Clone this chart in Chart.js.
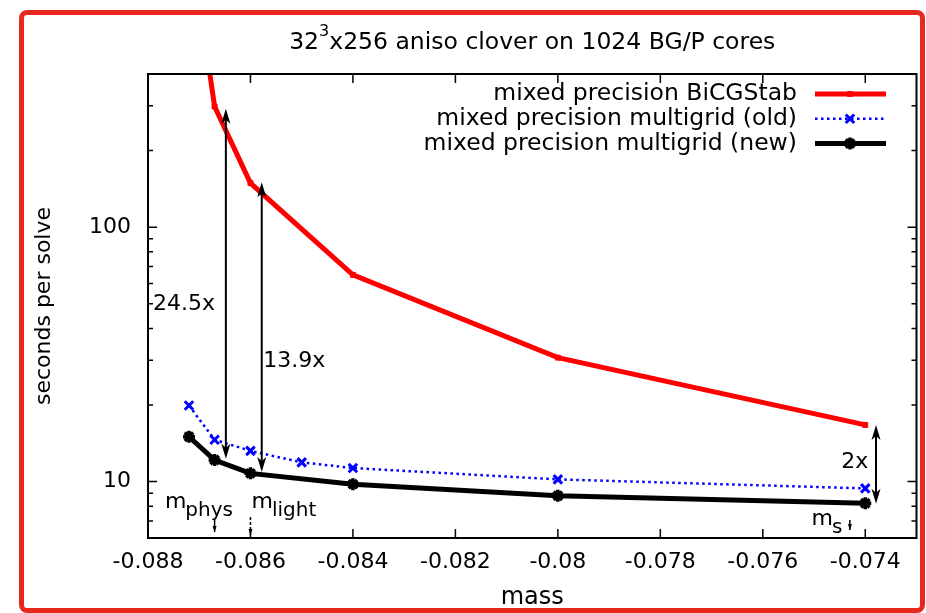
<!DOCTYPE html>
<html>
<head>
<meta charset="utf-8">
<title>32^3x256 aniso clover on 1024 BG/P cores</title>
<script src="https://cdn.jsdelivr.net/npm/chart.js@4.4.1/dist/chart.umd.min.js"></script>
<style>
  html, body { margin: 0; padding: 0; background: #fff; }
  #wrap { position: relative; width: 926px; height: 613px; }
  #frame {
    position: absolute; left: 19px; top: 10px; width: 896px; height: 593px;
    border: 5px solid #e8281c; border-radius: 8px; pointer-events: none;
  }
</style>
</head>
<body>
<div id="wrap">
  <canvas id="solve-chart" width="926" height="613"></canvas>
  <div id="frame"></div>
</div>
<script>
// --- Data --- //
const massTicks = [-0.088, -0.086, -0.084, -0.082, -0.080, -0.078, -0.076, -0.074];
const massTickLabels = ['-0.088', '-0.086', '-0.084', '-0.082', '-0.08', '-0.078', '-0.076', '-0.074'];
const timeTicks = [10, 100];
const timeTickLabels = ['10', '100'];
const timeMinorTicks = [7, 8, 9, 20, 30, 40, 50, 60, 70, 80, 90, 200, 300];

const bicgMass = [-0.0872, -0.0867, -0.0860, -0.0840, -0.0800, -0.0740];
const bicgTime = [1450, 298, 149, 64.9, 30.7, 16.7];
const mgOldMass = [-0.0872, -0.0867, -0.0860, -0.0850, -0.0840, -0.0800, -0.0740];
const mgOldTime = [19.9, 14.6, 13.2, 11.9, 11.3, 10.2, 9.4];
const mgNewMass = [-0.0872, -0.0867, -0.0860, -0.0840, -0.0800, -0.0740];
const mgNewTime = [15.0, 12.15, 10.77, 9.77, 8.79, 8.21];

// speed-up arrows (double headed) and their labels
const speedupMass = [-0.08648, -0.08578, -0.07379];
const speedupLow = [12.3, 10.9, 8.18];
const speedupHigh = [292, 150, 16.7];
const speedupText = ['24.5x', '13.9x', '2x'];
const speedupTextMass = [-0.0879, -0.08575, -0.07447];
const speedupTextTime = [47.4, 28.2, 11.3];

// quark mass markers
const markerSub = ['phys', 'light', 's'];
const markerTextMass = [-0.08767, -0.08598, -0.07505];
const markerTextTime = [7.87, 7.87, 6.75];
const markerArrowMass = [-0.0867, -0.0860, -0.0743];
const markerArrowTop = [7.06, 7.25, 7.06];
const markerArrowBottom = [6.33, 6.16, 6.45];
const markerDashed = [false, true, false];

const FONT = '"DejaVu Sans", sans-serif';
Chart.defaults.font.family = FONT;
Chart.defaults.color = '#000';

function toPoints(xs, ys) {
    return xs.map((x, i) => ({ x: x, y: ys[i] }));
}

function arrowHead(ctx, x, y, dir) {
    // dir = -1 points up, +1 points down; filled head with a small notch
    ctx.beginPath();
    ctx.moveTo(x, y);
    ctx.lineTo(x - 4.5, y - dir * 15);
    ctx.lineTo(x, y - dir * 11);
    ctx.lineTo(x + 4.5, y - dir * 15);
    ctx.closePath();
    ctx.fill();
}

// --- Gnuplot-like decorations: box, inward ticks, title, key, labels --- //
const gnuplotLook = {
    id: 'gnuplotLook',
    afterDatasetsDraw(chart) {
        const ctx = chart.ctx;
        const area = chart.chartArea;
        const xs = chart.scales.x;
        const ys = chart.scales.y;
        ctx.save();
        ctx.strokeStyle = '#000';
        ctx.fillStyle = '#000';

        // border
        ctx.lineWidth = 2;
        ctx.strokeRect(area.left, area.top, area.right - area.left, area.bottom - area.top);

        // ticks, mirrored on top and right
        ctx.lineWidth = 1.5;
        ctx.beginPath();
        massTicks.forEach(v => {
            const px = xs.getPixelForValue(v);
            ctx.moveTo(px, area.bottom); ctx.lineTo(px, area.bottom - 9);
            ctx.moveTo(px, area.top); ctx.lineTo(px, area.top + 9);
        });
        timeTicks.forEach(v => {
            const py = ys.getPixelForValue(v);
            ctx.moveTo(area.left, py); ctx.lineTo(area.left + 9, py);
            ctx.moveTo(area.right, py); ctx.lineTo(area.right - 9, py);
        });
        timeMinorTicks.forEach(v => {
            const py = ys.getPixelForValue(v);
            ctx.moveTo(area.left, py); ctx.lineTo(area.left + 5, py);
            ctx.moveTo(area.right, py); ctx.lineTo(area.right - 5, py);
        });
        ctx.stroke();

        // title with superscript
        const cx = (area.left + area.right) / 2;
        const bigFont = '23.5px ' + FONT;
        const supFont = '16px ' + FONT;
        const partA = '32', partSup = '3', partB = 'x256 aniso clover on 1024 BG/P cores';
        ctx.font = bigFont;
        const wa = ctx.measureText(partA).width;
        const wb = ctx.measureText(partB).width;
        ctx.font = supFont;
        const ws = ctx.measureText(partSup).width;
        let tx = cx - (wa + ws + wb) / 2;
        ctx.textAlign = 'left';
        ctx.textBaseline = 'alphabetic';
        ctx.font = bigFont;
        ctx.fillText(partA, tx, 49);
        ctx.font = supFont;
        ctx.fillText(partSup, tx + wa, 36);
        ctx.font = bigFont;
        ctx.fillText(partB, tx + wa + ws, 49);

        // key (text right, sample on the right)
        ctx.font = '23.5px ' + FONT;
        ctx.textAlign = 'right';
        ctx.textBaseline = 'middle';
        chart.data.datasets.forEach((ds, i) => {
            const ky = 94 + i * 24.7;
            ctx.fillStyle = '#000';
            ctx.fillText(ds.label, 797, ky);
            ctx.strokeStyle = ds.borderColor;
            ctx.lineWidth = ds.borderWidth;
            ctx.setLineDash(ds.borderDash || []);
            ctx.beginPath();
            ctx.moveTo(815, ky); ctx.lineTo(886, ky);
            ctx.stroke();
            ctx.setLineDash([]);
            const pt = chart.getDatasetMeta(i).data[0];
            if (pt) {
                const o = pt.options;
                ctx.strokeStyle = o.borderColor;
                ctx.fillStyle = o.backgroundColor;
                ctx.lineWidth = o.borderWidth;
                Chart.helpers.drawPoint(ctx, o, 850, ky);
            }
        });

        // speed-up arrows
        ctx.strokeStyle = '#000';
        ctx.fillStyle = '#000';
        ctx.lineWidth = 2;
        speedupMass.forEach((m, i) => {
            const px = xs.getPixelForValue(m);
            const yLow = ys.getPixelForValue(speedupLow[i]);
            const yHigh = ys.getPixelForValue(speedupHigh[i]);
            ctx.beginPath();
            ctx.moveTo(px, yLow - 10); ctx.lineTo(px, yHigh + 10);
            ctx.stroke();
            arrowHead(ctx, px, yHigh, -1);
            arrowHead(ctx, px, yLow, 1);
        });
        ctx.font = '22px ' + FONT;
        ctx.textAlign = 'left';
        ctx.textBaseline = 'alphabetic';
        speedupText.forEach((t, i) => {
            ctx.fillText(t, xs.getPixelForValue(speedupTextMass[i]), ys.getPixelForValue(speedupTextTime[i]));
        });

        // quark mass markers
        markerSub.forEach((sub, i) => {
            const lx = xs.getPixelForValue(markerTextMass[i]);
            const ly = ys.getPixelForValue(markerTextTime[i]);
            ctx.font = '22px ' + FONT;
            ctx.fillText('m', lx, ly);
            const mw = ctx.measureText('m').width;
            ctx.font = '20px ' + FONT;
            ctx.fillText(sub, lx + mw - 1, ly + 8);

            const ax = xs.getPixelForValue(markerArrowMass[i]);
            const aTop = ys.getPixelForValue(markerArrowTop[i]);
            const aBot = ys.getPixelForValue(markerArrowBottom[i]);
            ctx.lineWidth = 1.5;
            ctx.setLineDash(markerDashed[i] ? [3, 2] : []);
            ctx.beginPath();
            ctx.moveTo(ax, aTop); ctx.lineTo(ax, aBot);
            ctx.stroke();
            ctx.setLineDash([]);
            ctx.beginPath();
            ctx.moveTo(ax - 2, aBot - 6); ctx.lineTo(ax, aBot); ctx.lineTo(ax + 2, aBot - 6);
            ctx.closePath();
            ctx.fill();
        });

        ctx.restore();
    }
};

const ctx = document.getElementById('solve-chart').getContext('2d');
new Chart(ctx, {
    type: 'line',
    data: {
        datasets: [
            {
                label: 'mixed precision BiCGStab',
                data: toPoints(bicgMass, bicgTime),
                borderColor: '#ff0000',
                backgroundColor: '#ff0000',
                borderWidth: 5,
                pointStyle: 'rect',
                pointRadius: 3.5,
                pointBorderWidth: 1,
                tension: 0
            },
            {
                label: 'mixed precision multigrid (old)',
                data: toPoints(mgOldMass, mgOldTime),
                borderColor: '#0000ff',
                backgroundColor: '#0000ff',
                borderWidth: 2.5,
                borderDash: [2.5, 3.5],
                pointStyle: 'crossRot',
                pointRadius: 6,
                pointBorderWidth: 3,
                tension: 0
            },
            {
                label: 'mixed precision multigrid (new)',
                data: toPoints(mgNewMass, mgNewTime),
                borderColor: '#000000',
                backgroundColor: '#000000',
                borderWidth: 5,
                pointStyle: 'star',
                pointRadius: 6,
                pointBorderWidth: 3.5,
                tension: 0
            }
        ]
    },
    options: {
        responsive: false,
        animation: false,
        devicePixelRatio: 1,
        layout: { padding: { left: 0, right: 8, top: 74, bottom: 0 } },
        plugins: {
            legend: { display: false },
            title: { display: false },
            tooltip: { enabled: false }
        },
        scales: {
            x: {
                type: 'linear',
                min: -0.088,
                max: -0.073,
                grid: { display: false, drawTicks: false },
                border: { display: false },
                afterBuildTicks: (scale) => { scale.ticks = massTicks.map(v => ({ value: v })); },
                afterFit: (scale) => { scale.height = 75; },
                ticks: {
                    autoSkip: false,
                    maxRotation: 0,
                    padding: 10.8,
                    font: { size: 22 },
                    color: '#000',
                    callback: (value, index) => massTickLabels[index]
                },
                title: {
                    display: true,
                    text: 'mass',
                    font: { size: 24 },
                    color: '#000',
                    padding: { top: 0, bottom: 1 }
                }
            },
            y: {
                type: 'logarithmic',
                min: 6,
                max: 400,
                grid: { display: false, drawTicks: false },
                border: { display: false },
                afterBuildTicks: (scale) => { scale.ticks = timeTicks.map(v => ({ value: v })); },
                afterFit: (scale) => { scale.width = 148; },
                ticks: {
                    autoSkip: false,
                    padding: 17,
                    font: { size: 22 },
                    color: '#000',
                    callback: (value, index) => timeTickLabels[index]
                },
                title: {
                    display: true,
                    text: 'seconds per solve',
                    font: { size: 22 },
                    color: '#000',
                    padding: { top: 31, bottom: 0 }
                }
            }
        }
    },
    plugins: [gnuplotLook]
});
</script>
</body>
</html>
